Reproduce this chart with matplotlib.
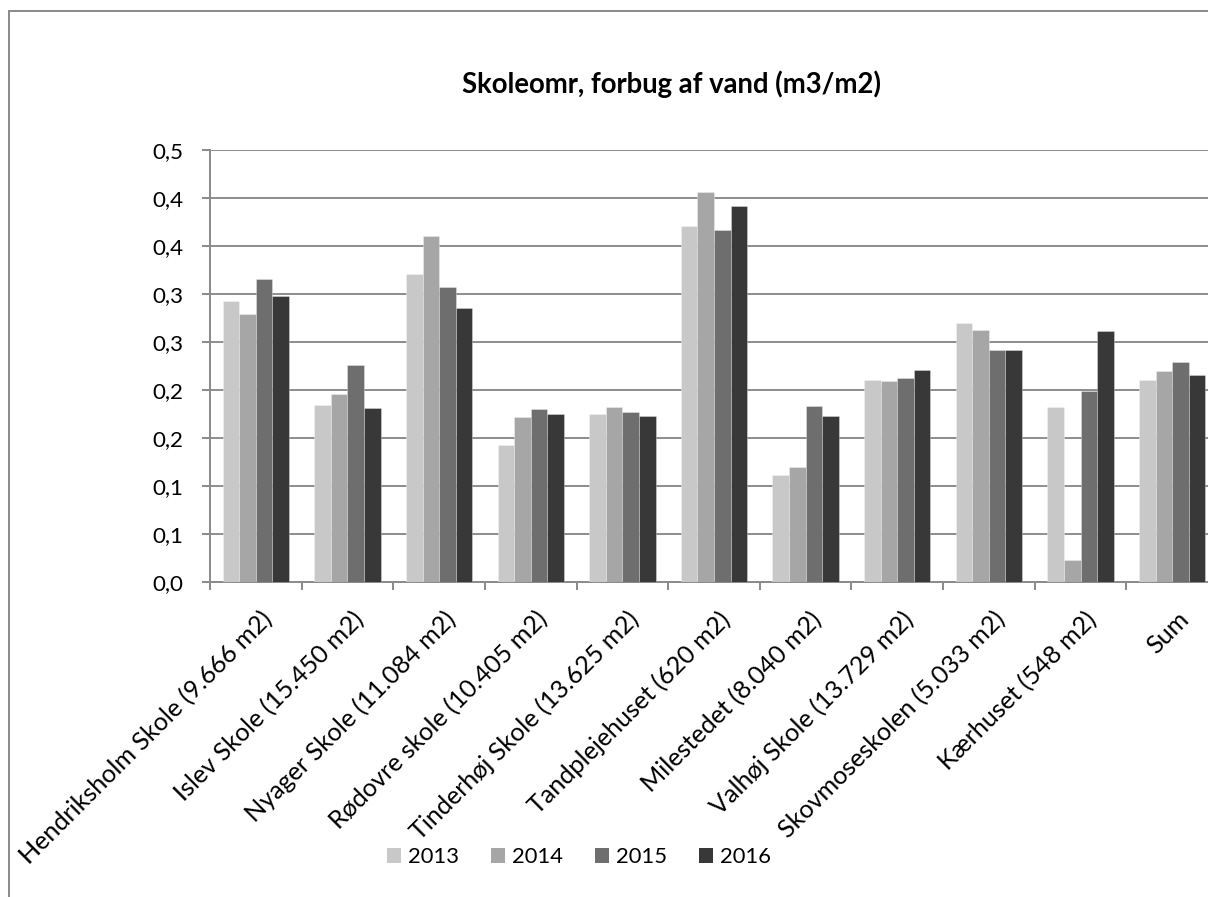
import numpy as np
import matplotlib
matplotlib.use('Agg')
import matplotlib.pyplot as plt
from matplotlib.patches import Rectangle, Patch

plt.rcParams['font.family'] = ['Lato', 'DejaVu Sans']

categories = ['Hendriksholm Skole (9.666 m2)', 'Islev Skole (15.450 m2)',
              'Nyager Skole (11.084 m2)', 'Rødovre skole (10.405 m2)',
              'Tinderhøj Skole (13.625 m2)', 'Tandplejehuset (620 m2)',
              'Milestedet (8.040 m2)', 'Valhøj Skole (13.729 m2)',
              'Skovmoseskolen (5.033 m2)', 'Kærhuset (548 m2)', 'Sum']
years = ['2013', '2014', '2015', '2016']
v2013 = [0.293, 0.184, 0.321, 0.143, 0.175, 0.371, 0.111, 0.210, 0.270, 0.182, 0.210]
v2014 = [0.279, 0.196, 0.360, 0.172, 0.182, 0.406, 0.120, 0.209, 0.263, 0.023, 0.220]
v2015 = [0.316, 0.226, 0.307, 0.180, 0.177, 0.367, 0.183, 0.212, 0.242, 0.199, 0.229]
v2016 = [0.298, 0.181, 0.285, 0.175, 0.173, 0.392, 0.173, 0.221, 0.242, 0.261, 0.216]
yticks = [0, 0.05, 0.1, 0.15, 0.2, 0.25, 0.3, 0.35, 0.4, 0.45]
ytick_labels = ['0,0', '0,1', '0,1', '0,2', '0,2', '0,3', '0,3', '0,4', '0,4', '0,5']
title = 'Skoleomr, forbug af vand (m3/m2)'

colors = ['#c8c8c8', '#a6a6a6', '#6e6e6e', '#383838']
series = [v2013, v2014, v2015, v2016]

W, H = 1208, 897
PX = 0.72  # points per pixel at dpi 100
fig = plt.figure(figsize=(W / 100, H / 100), dpi=100)
renderer = fig.canvas.get_renderer()


def fit_size(text, target_px, weight='normal'):
    # font size (pt) that makes text about target_px wide
    t = fig.text(0, 0, text, fontsize=10, fontweight=weight)
    w = t.get_window_extent(renderer).width
    t.remove()
    return 10 * target_px / w


fs_tick = fit_size('0,5', 31)
fs_cat = fit_size(categories[0], 348)
fs_leg = fit_size('2013', 51)
fs_title = fit_size(title, 422, 'bold')

ax = fig.add_axes([210 / W, 1 - 582 / H, 1008 / W, 432 / H])

x = np.arange(len(categories))
bw = 0.181
for i, (vals, c) in enumerate(zip(series, colors)):
    ax.bar(x + (i - 1.5) * bw, vals, bw, color=c, label=years[i], zorder=3,
           edgecolor=(1, 1, 1, 0.3), linewidth=PX)

ax.set_xlim(-0.5, len(categories) - 0.5)
ax.set_ylim(0, 0.45)
ax.set_yticks(yticks)
ax.set_yticklabels(ytick_labels)
ax.yaxis.grid(True, color='#909090', linewidth=2 * PX, zorder=0)
ax.set_axisbelow(True)

ax.set_xticks(np.arange(len(categories) + 1) - 0.5)
ax.set_xticklabels([])
ax.tick_params(axis='x', length=8 * PX, width=2 * PX, color='#8c8c8c')
ax.tick_params(axis='y', length=8 * PX, width=2 * PX, color='#8c8c8c',
               labelsize=fs_tick, pad=19 * PX)

for i, name in enumerate(categories):
    ax.annotate(name, xy=(i, 0), xycoords=('data', 'axes fraction'),
                xytext=(18 * PX, -39 * PX), textcoords='offset points',
                rotation=45, rotation_mode='anchor', ha='right', va='baseline',
                fontsize=fs_cat, annotation_clip=False)

for s in ['top', 'right']:
    ax.spines[s].set_visible(False)
for s in ['left', 'bottom']:
    ax.spines[s].set_color('#8c8c8c')
    ax.spines[s].set_linewidth(2 * PX)

fig.text(671 / W, 1 - 93 / H, title, ha='center', va='baseline',
         fontsize=fs_title, fontweight='bold')

fpx = fs_leg / PX
handles = [Patch(facecolor=c, label=y) for c, y in zip(colors, years)]
fig.legend(handles=handles, loc='center', bbox_to_anchor=(579 / W, 1 - 857 / H),
           ncol=4, frameon=False, fontsize=fs_leg, handlelength=14 / fpx,
           handleheight=14 / fpx, handletextpad=7 / fpx, columnspacing=32 / fpx)

fig.patches.append(Rectangle((9 / W, -0.1), 1.2, 1.1 - 11.5 / H, transform=fig.transFigure,
                             fill=False, edgecolor='#8c8c8c', linewidth=2 * PX))

fig.savefig('out.png', dpi=100)
